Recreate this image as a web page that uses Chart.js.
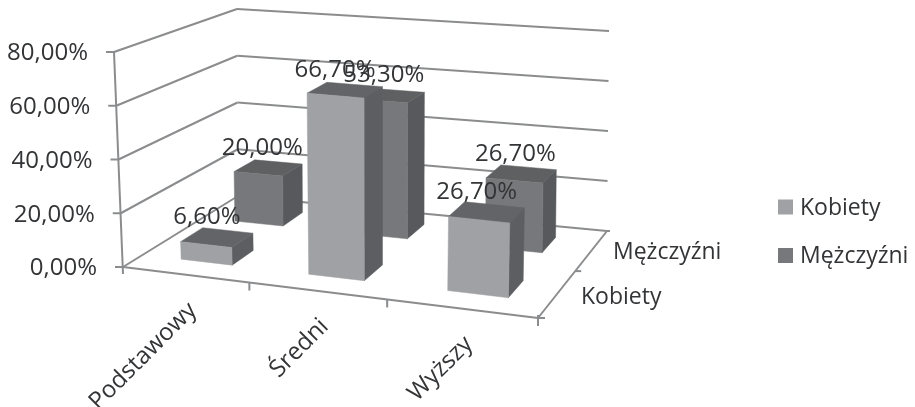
<!DOCTYPE html>
<html>
<head>
<meta charset="utf-8">
<style>
  body { margin: 0; background: #fff; }
  #box { width: 915px; height: 407px; }
</style>
</head>
<body>
<div id="box"><canvas id="barChart"></canvas></div>
<script src="https://cdn.jsdelivr.net/npm/chart.js@4"></script>
<script>
const categories = ['Podstawowy', 'Średni', 'Wyższy'];
const seriesNames = ['Kobiety', 'Mężczyźni'];
const kobiety = [6.6, 66.7, 26.7];
const mezczyzni = [20, 53.3, 26.7];
const tickStep = 20;
const tickMax = 80;

const FONT = '24px "Open Sans", sans-serif';
const NAME_FONT = '23px "Open Sans", sans-serif';
const TEXT = '#333436';
const LINE = '#8b8c8e';

// Floor corners and the vertical reach of the value axis at each of them
const floor = {a: [123, 267], b: [538, 318], c: [607, 231], d: [238, 196]};
const reach = {a: [-9, -215], b: [6, -230], c: [2, -200], d: [-1, -187]};
const depthBands = [[0.155, 0.34], [0.664, 0.86]];
const rowShift = [0.007, -0.005];
const labelShift = [-10, -6];
const faces = [
  {front: '#a0a1a4', top: '#636467', side: '#5d5e61'},
  {front: '#77787b', top: '#5f6062', side: '#58595c'}
];

// Perspective map of the unit square onto the floor
function makeFloorMap({a, b, c, d}) {
  const dx1 = b[0] - c[0], dy1 = b[1] - c[1];
  const dx2 = d[0] - c[0], dy2 = d[1] - c[1];
  const sx = a[0] - b[0] + c[0] - d[0], sy = a[1] - b[1] + c[1] - d[1];
  const det = dx1 * dy2 - dy1 * dx2;
  const g = (sx * dy2 - sy * dx2) / det;
  const h = (dx1 * sy - dy1 * sx) / det;
  const m = [
    b[0] - a[0] + g * b[0], d[0] - a[0] + h * d[0], a[0],
    b[1] - a[1] + g * b[1], d[1] - a[1] + h * d[1], a[1]
  ];
  return (u, v) => {
    const w = 1 + g * u + h * v;
    return [(m[0] * u + m[1] * v + m[2]) / w, (m[3] * u + m[4] * v + m[5]) / w];
  };
}
const floorMap = makeFloorMap(floor);

// u: along the categories, v: into the depth, t: height as a share of the value axis
function project(u, v, t) {
  const [x, y] = floorMap(u, v);
  const mix = i => (1 - u) * (1 - v) * reach.a[i] + u * (1 - v) * reach.b[i] +
      u * v * reach.c[i] + (1 - u) * v * reach.d[i];
  return [x + t * mix(0), y + t * mix(1)];
}

function share(yScale, value) {
  return yScale.getDecimalForPixel(yScale.getPixelForValue(value));
}

function poly(ctx, pts, fill) {
  ctx.beginPath();
  pts.forEach((p, i) => i ? ctx.lineTo(p[0], p[1]) : ctx.moveTo(p[0], p[1]));
  ctx.closePath();
  ctx.fillStyle = fill;
  ctx.fill();
  ctx.strokeStyle = fill;
  ctx.lineWidth = 0.5;
  ctx.stroke();
}

function line(ctx, p, q) {
  ctx.beginPath();
  ctx.moveTo(p[0], p[1]);
  ctx.lineTo(q[0], q[1]);
  ctx.stroke();
}

function percent(value) {
  return value.toFixed(2).replace('.', ',') + '%';
}

function drawWalls(ctx, yScale) {
  ctx.strokeStyle = LINE;
  ctx.lineWidth = 2;
  yScale.ticks.forEach(tick => {
    const t = share(yScale, tick.value);
    const p = project(0, 0, t), q = project(0, 1, t), r = project(1, 1, t);
    line(ctx, p, q);
    line(ctx, q, r);
    line(ctx, [p[0] - 8, p[1]], p);
  });
  line(ctx, [floor.a[0], floor.a[1] + 7], project(0, 0, 1));
  line(ctx, floor.a, floor.b);
  line(ctx, floor.b, floor.c);
  // tick marks on the category and depth axes
  categories.forEach((c, i) => {
    const p = floorMap((i + 1) / categories.length, 0);
    line(ctx, p, [p[0], p[1] + 8]);
  });
  line(ctx, [floor.b[0], floor.b[1] - 3], [floor.b[0], floor.b[1] + 8]);
  line(ctx, floor.b, [floor.b[0] + 7, floor.b[1]]);
  const mid = floorMap(1, 0.5);
  line(ctx, mid, [mid[0] + 6, mid[1]]);
  line(ctx, floor.c, [floor.c[0] + 3, floor.c[1]]);
}

function drawBox(ctx, u0, u1, v0, v1, t, face) {
  poly(ctx, [project(u1, v0, 0), project(u1, v1, 0), project(u1, v1, t), project(u1, v0, t)], face.side);
  poly(ctx, [project(u0, v0, t), project(u1, v0, t), project(u1, v1, t), project(u0, v1, t)], face.top);
  poly(ctx, [project(u0, v0, 0), project(u1, v0, 0), project(u1, v0, t), project(u0, v0, t)], face.front);
}

const scene3d = {
  id: 'scene3d',
  // the bars are painted as boxes, so the flat rectangles are skipped
  beforeDatasetsDraw(chart) {
    const {ctx, chartArea, scales: {y: yScale}} = chart;
    const labels = [];
    ctx.save();
    drawWalls(ctx, yScale);

    // back row first so the front row hides it
    [1, 0].forEach(ds => {
      const dataset = chart.data.datasets[ds];
      const [v0, v1] = depthBands[ds];
      chart.getDatasetMeta(ds).data.forEach((bar, i) => {
        const u0 = (bar.x - bar.width / 2 - chartArea.left) / chartArea.width + rowShift[ds];
        const u1 = (bar.x + bar.width / 2 - chartArea.left) / chartArea.width + rowShift[ds];
        const t = share(yScale, dataset.data[i]);
        drawBox(ctx, u0, u1, v0, v1, t, faces[ds]);
        const c = project((u0 + u1) / 2, (v0 + v1) / 2, t);
        labels.push([percent(dataset.data[i]), c[0] + labelShift[ds], c[1] - 20]);
      });
    });

    ctx.font = FONT;
    ctx.fillStyle = TEXT;
    ctx.textBaseline = 'middle';

    ctx.textAlign = 'center';
    labels.forEach(l => ctx.fillText(l[0], l[1], l[2]));

    // value axis labels follow the leaning axis
    ctx.textAlign = 'right';
    yScale.ticks.forEach(tick => {
      const p = project(0, 0, share(yScale, tick.value));
      ctx.fillText(tick.label, p[0] - 26, p[1] + 1.5);
    });

    // category labels at 45 degrees
    categories.forEach((name, i) => {
      const p = floorMap((i + 0.5) / categories.length, 0);
      ctx.save();
      ctx.translate(p[0] + 8, p[1] + 32);
      ctx.rotate(-Math.PI / 4);
      ctx.fillText(name, 0, 0);
      ctx.restore();
    });

    ctx.font = NAME_FONT;

    // depth axis labels
    ctx.textAlign = 'left';
    ctx.fillText(seriesNames[0], 581, 297);
    ctx.fillText(seriesNames[1], 613, 252);

    // legend
    chart.data.datasets.forEach((dataset, i) => {
      const y = 207 + i * 48.5;
      ctx.fillStyle = dataset.backgroundColor;
      ctx.fillRect(778, y - 7.5, 15, 15);
      ctx.fillStyle = TEXT;
      ctx.fillText(dataset.label, 800, y + 1);
    });

    ctx.restore();
    return false;
  }
};

new Chart(document.getElementById('barChart').getContext('2d'), {
  type: 'bar',
  data: {
    labels: categories,
    datasets: [
      {label: seriesNames[0], data: kobiety, backgroundColor: faces[0].front},
      {label: seriesNames[1], data: mezczyzni, backgroundColor: faces[1].front}
    ]
  },
  options: {
    responsive: true,
    maintainAspectRatio: false,
    animation: false,
    barPercentage: 0.41,
    categoryPercentage: 1,
    plugins: {
      legend: {display: false},
      tooltip: {enabled: false}
    },
    scales: {
      x: {display: false, stacked: true},
      y: {
        display: false,
        min: 0,
        max: tickMax,
        ticks: {stepSize: tickStep, callback: v => percent(v)}
      }
    }
  },
  plugins: [scene3d]
});
</script>
</body>
</html>
